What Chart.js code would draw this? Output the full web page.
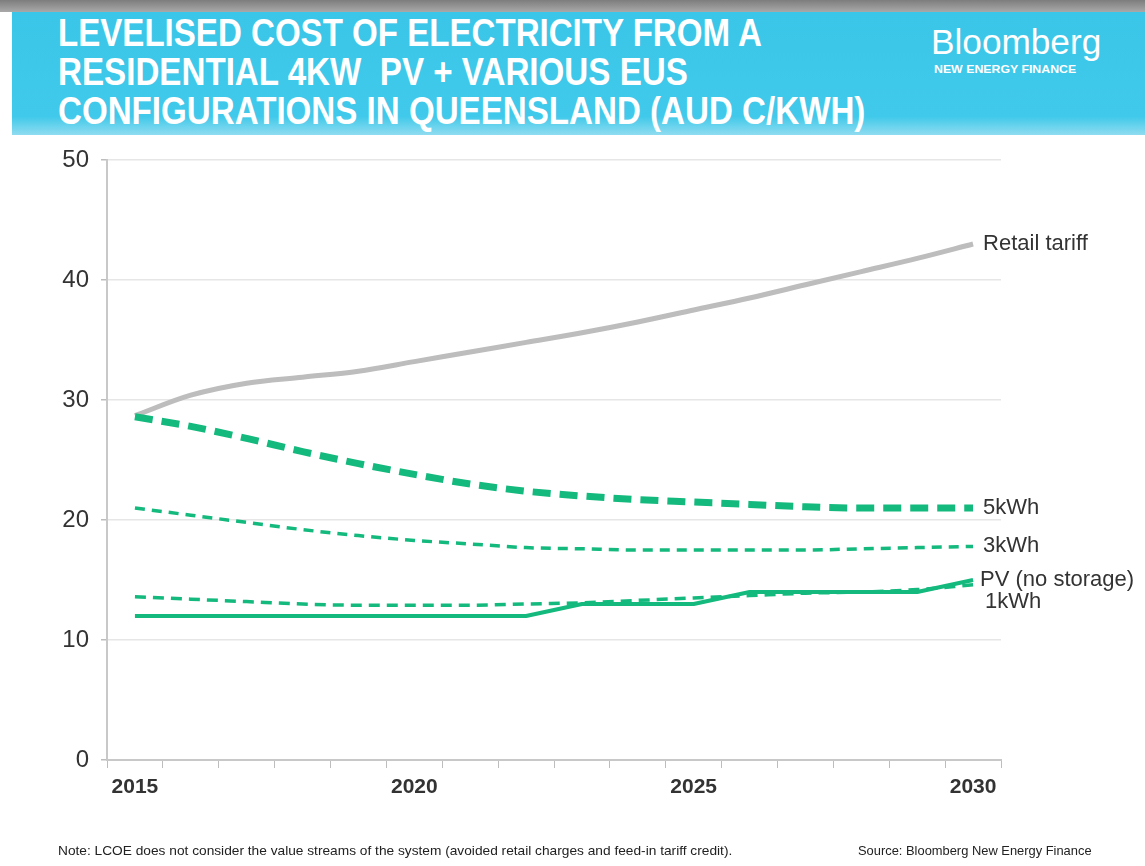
<!DOCTYPE html>
<html>
<head>
<meta charset="utf-8">
<script src="https://cdn.jsdelivr.net/npm/chart.js@4"></script>
<style>
  html, body { margin: 0; padding: 0; background: #fff; }
  #page { position: relative; width: 1145px; height: 866px; overflow: hidden; }
  #topstrip { position: absolute; left: 0; top: 0; width: 1145px; height: 12px;
    background: linear-gradient(#7d7d7d, #a9a9a9); }
  #banner { position: absolute; left: 12px; top: 12px; width: 1133px; height: 123px;
    background: linear-gradient(#3ac6e8, #40c9ea 85%, #8fdcf0 100%); }
  .tline { position: absolute; left: 58px; color: #fff; white-space: pre;
    font-family: "Liberation Sans", Arial, sans-serif; font-weight: bold;
    font-size: 39px; line-height: 40px; transform-origin: 0 0; }
  #logo1 { position: absolute; left: 931px; top: 22px; color: #fff; white-space: nowrap;
    font-family: "Liberation Sans", Arial, sans-serif; font-size: 35px; line-height: 40px;
    transform-origin: 0 0; }
  #logo2 { position: absolute; left: 934px; top: 63px; color: #fff; white-space: nowrap;
    font-family: "Liberation Sans", Arial, sans-serif; font-weight: bold; font-size: 10.5px;
    line-height: 12px; transform-origin: 0 0; }
  .foot { position: absolute; top: 843px; font-size: 13px; line-height: 16px; color: #222;
    font-family: "Liberation Sans", Arial, sans-serif; white-space: nowrap; transform-origin: 0 0; }
  #chartbox { position: absolute; left: 0; top: 0; width: 1145px; height: 866px; }
</style>
</head>
<body>
<div id="page">
  <div id="topstrip"></div>
  <div id="banner"></div>
  <div class="tline" id="t1" style="top:13px" data-w="704">LEVELISED COST OF ELECTRICITY FROM A</div>
  <div class="tline" id="t2" style="top:52px" data-w="630">RESIDENTIAL 4KW  PV + VARIOUS EUS</div>
  <div class="tline" id="t3" style="top:91px" data-w="807">CONFIGURATIONS IN QUEENSLAND (AUD C/KWH)</div>
  <div id="logo1" data-w="170">Bloomberg</div>
  <div id="logo2" data-w="142">NEW ENERGY FINANCE</div>
  <div id="chartbox"><canvas id="c" width="1145" height="866"></canvas></div>
  <div class="foot" style="left:58px" data-w="674">Note: LCOE does not consider the value streams of the system (avoided retail charges and feed-in tariff credit).</div>
  <div class="foot" style="left:858px" data-w="234">Source: Bloomberg New Energy Finance</div>
</div>
<script>
// Years on the horizontal axis
const years = ['2015','2016','2017','2018','2019','2020','2021','2022','2023','2024','2025','2026','2027','2028','2029','2030'];
// Tick labels shown on the year axis (every fifth year)
const yearTickLabels = ['2015','2020','2025','2030'];

// LCOE series, AUD c/kWh
const retailTariff = [28.7, 30.4, 31.4, 31.9, 32.4, 33.2, 34.0, 34.8, 35.6, 36.5, 37.5, 38.5, 39.6, 40.7, 41.8, 43.0];
const eus5kWh      = [28.6, 27.8, 26.8, 25.7, 24.7, 23.8, 23.0, 22.4, 22.0, 21.7, 21.5, 21.3, 21.1, 21.0, 21.0, 21.0];
const eus3kWh      = [21.0, 20.4, 19.8, 19.2, 18.7, 18.3, 18.0, 17.7, 17.6, 17.5, 17.5, 17.5, 17.5, 17.6, 17.7, 17.8];
const eus1kWh      = [13.6, 13.4, 13.2, 13.0, 12.9, 12.9, 12.9, 13.0, 13.1, 13.3, 13.5, 13.7, 13.9, 14.0, 14.2, 14.6];
const pvOnly       = [12, 12, 12, 12, 12, 12, 12, 12, 13, 13, 13, 14, 14, 14, 14, 15];

// End-of-line captions
const seriesNames = ['PV (no storage)', '1kWh', '3kWh', '5kWh', 'Retail tariff'];

const GREEN = '#14b97e';
const GREY = '#bdbdbd';

// Squeeze or stretch text blocks horizontally to their set widths
document.querySelectorAll('[data-w]').forEach(el => {
  const w = el.scrollWidth;
  const target = parseFloat(el.dataset.w);
  el.style.transform = 'scaleX(' + (target / w).toFixed(4) + ')';
});

// Captions written to the right of each line's final point
const endLabels = {
  id: 'endLabels',
  afterDatasetsDraw(chart) {
    const ctx = chart.ctx;
    ctx.save();
    ctx.font = '22px "Liberation Sans", Arial, sans-serif';
    ctx.fillStyle = '#333';
    ctx.textBaseline = 'middle';
    chart.data.datasets.forEach((ds, i) => {
      const meta = chart.getDatasetMeta(i);
      const pt = meta.data[meta.data.length - 1];
      let dy = 0, dx = 10;
      if (ds.label === '1kWh') { dy = 17; dx = 12; }
      if (ds.label === 'PV (no storage)') { dx = 7; }
      ctx.fillText(ds.label, pt.x + dx, pt.y + dy);
    });
    ctx.restore();
  }
};

new Chart(document.getElementById('c'), {
  type: 'line',
  data: {
    labels: years,
    datasets: [
      { label: seriesNames[0], data: pvOnly, borderColor: GREEN, borderWidth: 4, tension: 0 },
      { label: seriesNames[1], data: eus1kWh, borderColor: GREEN, borderWidth: 3.5, borderDash: [11, 7], cubicInterpolationMode: 'monotone' },
      { label: seriesNames[2], data: eus3kWh, borderColor: GREEN, borderWidth: 3.5, borderDash: [10, 7], cubicInterpolationMode: 'monotone' },
      { label: seriesNames[3], data: eus5kWh, borderColor: GREEN, borderWidth: 7, borderDash: [18, 9], cubicInterpolationMode: 'monotone' },
      { label: seriesNames[4], data: retailTariff, borderColor: GREY, borderWidth: 5, cubicInterpolationMode: 'monotone' }
    ]
  },
  options: {
    responsive: false,
    animation: false,
    events: [],
    elements: { point: { radius: 0 }, line: { borderCapStyle: 'butt', borderJoinStyle: 'round' } },
    layout: { padding: { left: 0, top: 160, right: 144, bottom: 66 } },
    plugins: { legend: { display: false }, tooltip: { enabled: false } },
    scales: {
      x: {
        type: 'category',
        offset: true,
        afterFit: (s) => { s.height = 40; },
        grid: { display: true, drawOnChartArea: false, drawTicks: true, tickLength: 8, color: '#bdbdbd', offset: true },
        border: { display: true, color: '#c8c8c8', width: 2 },
        ticks: {
          autoSkip: false, maxRotation: 0, padding: 7, color: '#333',
          font: { family: '"Liberation Sans", Arial, sans-serif', size: 21, weight: 'bold' },
          callback: function (v) {
            const lab = this.getLabelForValue(v);
            return yearTickLabels.includes(lab) ? lab : '';
          }
        }
      },
      y: {
        min: 0, max: 50,
        afterFit: (s) => { s.width = 107; },
        grid: { color: '#e6e6e6', lineWidth: 1.5, tickLength: 6, tickColor: '#bdbdbd' },
        border: { display: true, color: '#c8c8c8', width: 2 },
        ticks: {
          stepSize: 10, padding: 12, color: '#333',
          font: { family: '"Liberation Sans", Arial, sans-serif', size: 24 }
        }
      }
    }
  },
  plugins: [endLabels]
});
</script>
</body>
</html>
